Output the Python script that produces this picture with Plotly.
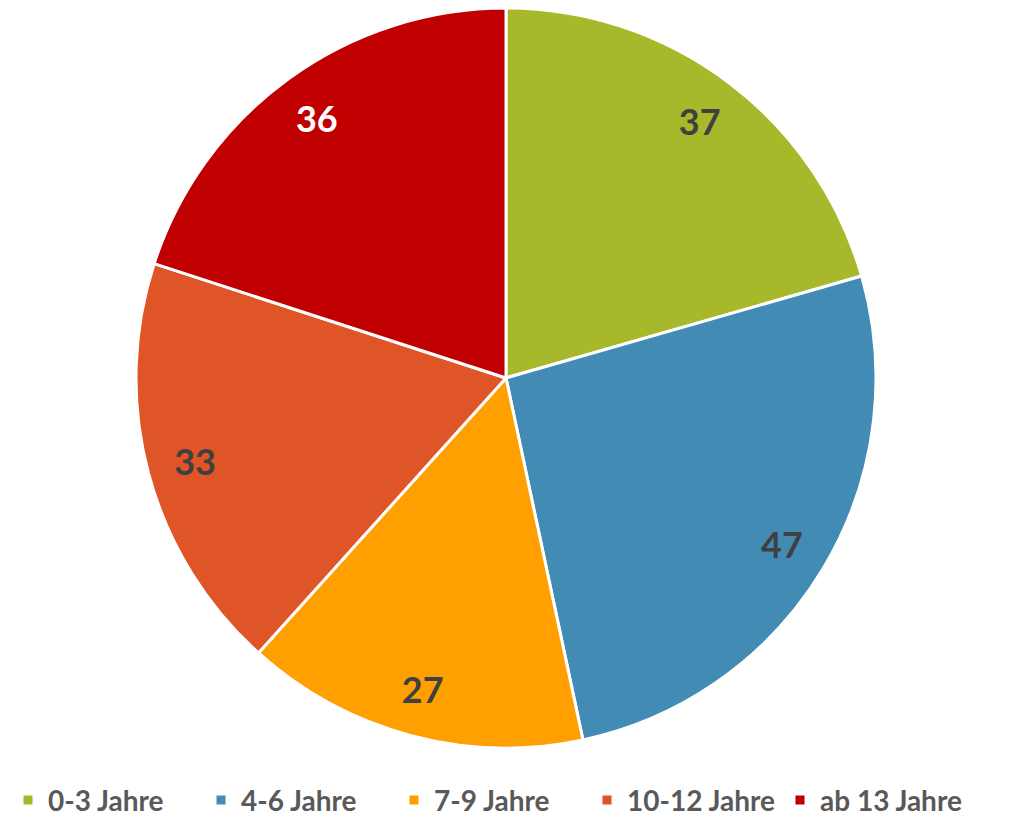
import plotly.graph_objects as go

# Data
categories = ["0-3 Jahre", "4-6 Jahre", "7-9 Jahre", "10-12 Jahre", "ab 13 Jahre"]
values = [37, 47, 27, 33, 36]
colors = ["#A8B82B", "#428BB4", "#FF9F00", "#E05528", "#C00000"]
label_colors = ["#404040", "#404040", "#404040", "#404040", "#FFFFFF"]

FONT = "Lato, Open Sans, sans-serif"
DOMAIN = dict(x=[0, 1], y=[0, 1])

fig = go.Figure()

# the slices themselves
fig.add_trace(go.Pie(
    labels=categories, values=values, sort=False, direction="clockwise", rotation=0,
    domain=DOMAIN,
    marker=dict(colors=colors, line=dict(color="#FFFFFF", width=3)),
    textinfo="none",
    hoverinfo="label+value",
))

# text-only ring on top so the numbers sit near the rim
fig.add_trace(go.Pie(
    labels=categories, values=values, sort=False, direction="clockwise", rotation=0,
    domain=DOMAIN, hole=0.74,
    marker=dict(colors=["rgba(0,0,0,0)"] * len(values), line=dict(width=0)),
    textinfo="value",
    textposition="inside",
    insidetextorientation="horizontal",
    insidetextfont=dict(family=FONT, size=36, color=label_colors, weight="bold"),
    hoverinfo="skip",
    showlegend=False,
))

fig.update_layout(
    width=1012, height=821,
    paper_bgcolor="#FFFFFF", plot_bgcolor="#FFFFFF",
    margin=dict(l=0, r=16, t=0, b=81),
    font=dict(family=FONT, color="#595959"),
    legend=dict(
        orientation="h", x=0.0, xanchor="left", y=-0.037, yanchor="top",
        font=dict(family=FONT, size=28, color="#595959", weight="bold"),
        itemwidth=30,
        entrywidth=148,
        traceorder="normal",
    ),
)

fig.write_html("out.html")
